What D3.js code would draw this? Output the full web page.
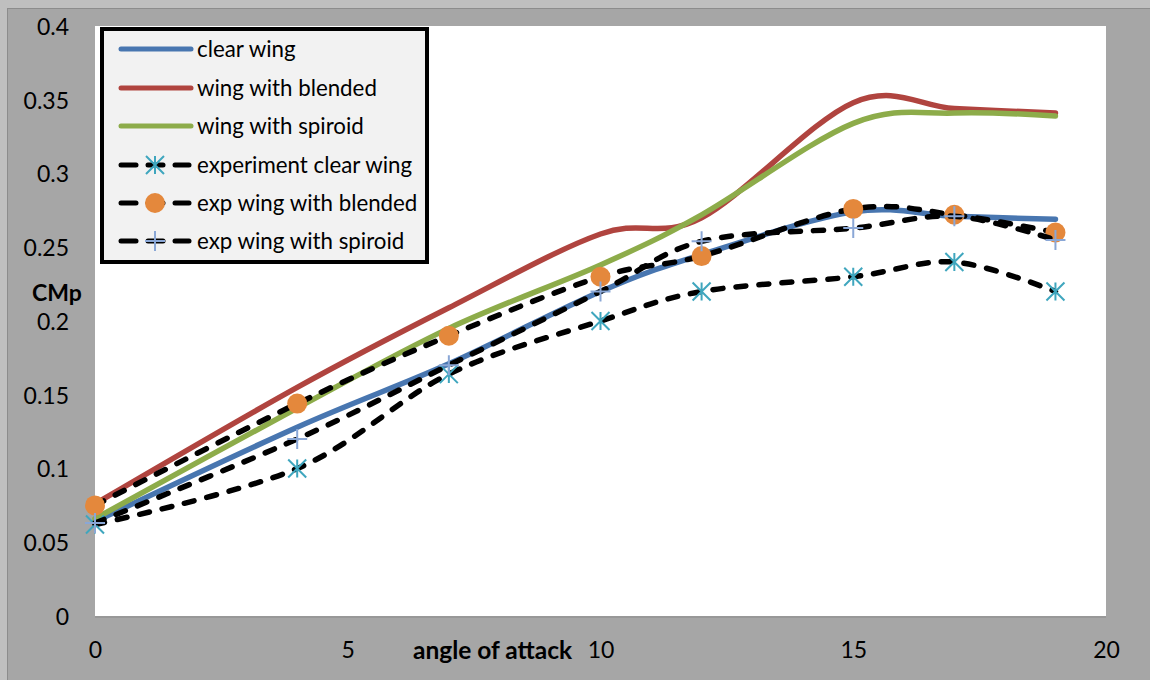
<!DOCTYPE html>
<html><head><meta charset="utf-8">
<script src="https://cdn.jsdelivr.net/npm/d3@7"></script>
<style>
html,body{margin:0;padding:0;background:#bfbfbf;}
svg{display:block;}
text{font-family:Lato,"Open Sans",sans-serif;fill:#000;}
</style></head><body>
<svg id="chart" width="1150" height="680"></svg>
<script>
// ---- data ----
const angles = [0, 4, 7, 10, 12, 15, 17, 19];
const clearWing   = [0.064, 0.128, 0.171, 0.220, 0.245, 0.274, 0.271, 0.269];
const blendedWing = [0.076, 0.155, 0.209, 0.259, 0.270, 0.348, 0.344, 0.341];
const spiroidWing = [0.066, 0.141, 0.195, 0.238, 0.272, 0.334, 0.341, 0.339];
const expClear    = [0.062, 0.100, 0.164, 0.200, 0.220, 0.230, 0.240, 0.220];
const expBlended  = [0.075, 0.144, 0.190, 0.230, 0.244, 0.276, 0.272, 0.260];
const expSpiroid  = [0.063, 0.120, 0.170, 0.220, 0.254, 0.263, 0.271, 0.255];
const xTicks = [0, 5, 10, 15, 20];
const yTicks = [0, 0.05, 0.1, 0.15, 0.2, 0.25, 0.3, 0.35, 0.4];
const seriesNames = ["clear wing", "wing with blended", "wing with spiroid",
  "experiment clear wing", "exp wing with blended", "exp wing with spiroid"];

const series = [
  {name: seriesNames[0], values: clearWing,   color: "#4876b0", dashed: false},
  {name: seriesNames[1], values: blendedWing, color: "#b0443f", dashed: false},
  {name: seriesNames[2], values: spiroidWing, color: "#8dac4a", dashed: false},
  {name: seriesNames[3], values: expClear,    color: "#000", dashed: true, marker: "star"},
  {name: seriesNames[4], values: expBlended,  color: "#000", dashed: true, marker: "circle"},
  {name: seriesNames[5], values: expSpiroid,  color: "#000", dashed: true, marker: "plus"}
];

const svg = d3.select("#chart");
// chart area
svg.append("rect").attr("x", 7.5).attr("y", 8.5).attr("width", 1160).attr("height", 690)
  .attr("fill", "#a6a6a6").attr("stroke", "#8c8c8c").attr("stroke-width", 1);

const plot = {left: 95, right: 1106, top: 26, bottom: 616};
const x = d3.scaleLinear().domain([0, 20]).range([plot.left, plot.right]);
const y = d3.scaleLinear().domain([0, 0.4]).range([plot.bottom, plot.top]);

// plot area
svg.append("rect").attr("x", plot.left).attr("y", plot.bottom).attr("width", plot.right - plot.left)
  .attr("height", 2).attr("fill", "#909090").attr("opacity", 0.6);
svg.append("rect").attr("x", plot.left).attr("y", plot.top).attr("width", plot.right - plot.left)
  .attr("height", plot.bottom - plot.top).attr("fill", "#fff");

// axes
const yAxis = d3.axisLeft(y).tickValues(yTicks).tickSize(0).tickPadding(0)
  .tickFormat(d => d3.format("~g")(+d.toFixed(2)));
const gy = svg.append("g").attr("transform", `translate(69,0)`).call(yAxis);
gy.select(".domain").remove();
gy.selectAll("text").attr("font-family", "Lato").attr("font-size", 23).attr("fill", "#000")
  .attr("dy", "0.36em");

const xAxis = d3.axisBottom(x).tickValues(xTicks).tickSize(0).tickPadding(0).tickFormat(d3.format("d"));
const gx = svg.append("g").attr("transform", `translate(0,642)`).call(xAxis);
gx.select(".domain").remove();
gx.selectAll("text").attr("font-family", "Lato").attr("font-size", 23).attr("fill", "#000")
  .attr("dy", "0.36em").attr("y", 8);

svg.append("text").attr("x", 413).attr("y", 650).attr("dy", "0.36em")
  .attr("font-size", 24.5).attr("font-weight", "bold").text("angle of attack");
svg.append("text").attr("x", 32).attr("y", 293).attr("dy", "0.36em")
  .attr("font-size", 23).attr("font-weight", "bold").text("CMp");

// lines
const line = d3.line().x(d => x(d[0])).y(d => y(d[1])).curve(d3.curveCardinal.tension(0));
const plotG = svg.append("g");

function drawMarker(g, type, cx, cy) {
  if (type === "circle") {
    g.append("circle").attr("cx", cx).attr("cy", cy).attr("r", 10).attr("fill", "#e4883c");
  } else if (type === "star") {
    const s = 9, c = "#3fa6be";
    g.append("path").attr("d", `M${cx},${cy - s}L${cx},${cy + s}M${cx - s},${cy - s}L${cx + s},${cy + s}M${cx - s},${cy + s}L${cx + s},${cy - s}`)
      .attr("stroke", c).attr("stroke-width", 2).attr("fill", "none");
  } else if (type === "plus") {
    const s = 10, c = "#8aa7d6";
    g.append("path").attr("d", `M${cx},${cy - s}L${cx},${cy + s}M${cx - s},${cy}L${cx + s},${cy}`)
      .attr("stroke", c).attr("stroke-width", 2).attr("fill", "none");
  }
}

series.forEach(s => {
  const pts = angles.map((a, i) => [a, s.values[i]]);
  const p = plotG.append("path").attr("d", line(pts)).attr("fill", "none")
    .attr("stroke", s.color).attr("stroke-width", 5.5)
    .attr("stroke-linecap", "round").attr("stroke-linejoin", "round");
  if (s.dashed) p.attr("stroke-dasharray", "10,13");
  if (s.marker) {
    const mg = plotG.append("g");
    pts.forEach(d => drawMarker(mg, s.marker, x(d[0]), y(d[1])));
  }
});

// legend
const lg = svg.append("g");
lg.append("rect").attr("x", 102).attr("y", 29).attr("width", 325).attr("height", 233)
  .attr("fill", "#f2f2f2").attr("stroke", "#000").attr("stroke-width", 4);
const rowY = [49, 88, 126, 165, 203, 241];
series.forEach((s, i) => {
  const ry = rowY[i];
  if (!s.dashed) {
    lg.append("line").attr("x1", 121).attr("x2", 191).attr("y1", ry).attr("y2", ry)
      .attr("stroke", s.color).attr("stroke-width", 5).attr("stroke-linecap", "round");
  } else {
    [[121, 136], [148, 163], [175, 189]].forEach(seg => {
      lg.append("line").attr("x1", seg[0]).attr("x2", seg[1]).attr("y1", ry).attr("y2", ry)
        .attr("stroke", "#000").attr("stroke-width", 5).attr("stroke-linecap", "round");
    });
    drawMarker(lg, s.marker, 155, ry);
  }
  lg.append("text").attr("x", 197).attr("y", ry).attr("dy", "0.34em")
    .attr("font-size", 22.3).text(s.name);
});
</script>
</body></html>
